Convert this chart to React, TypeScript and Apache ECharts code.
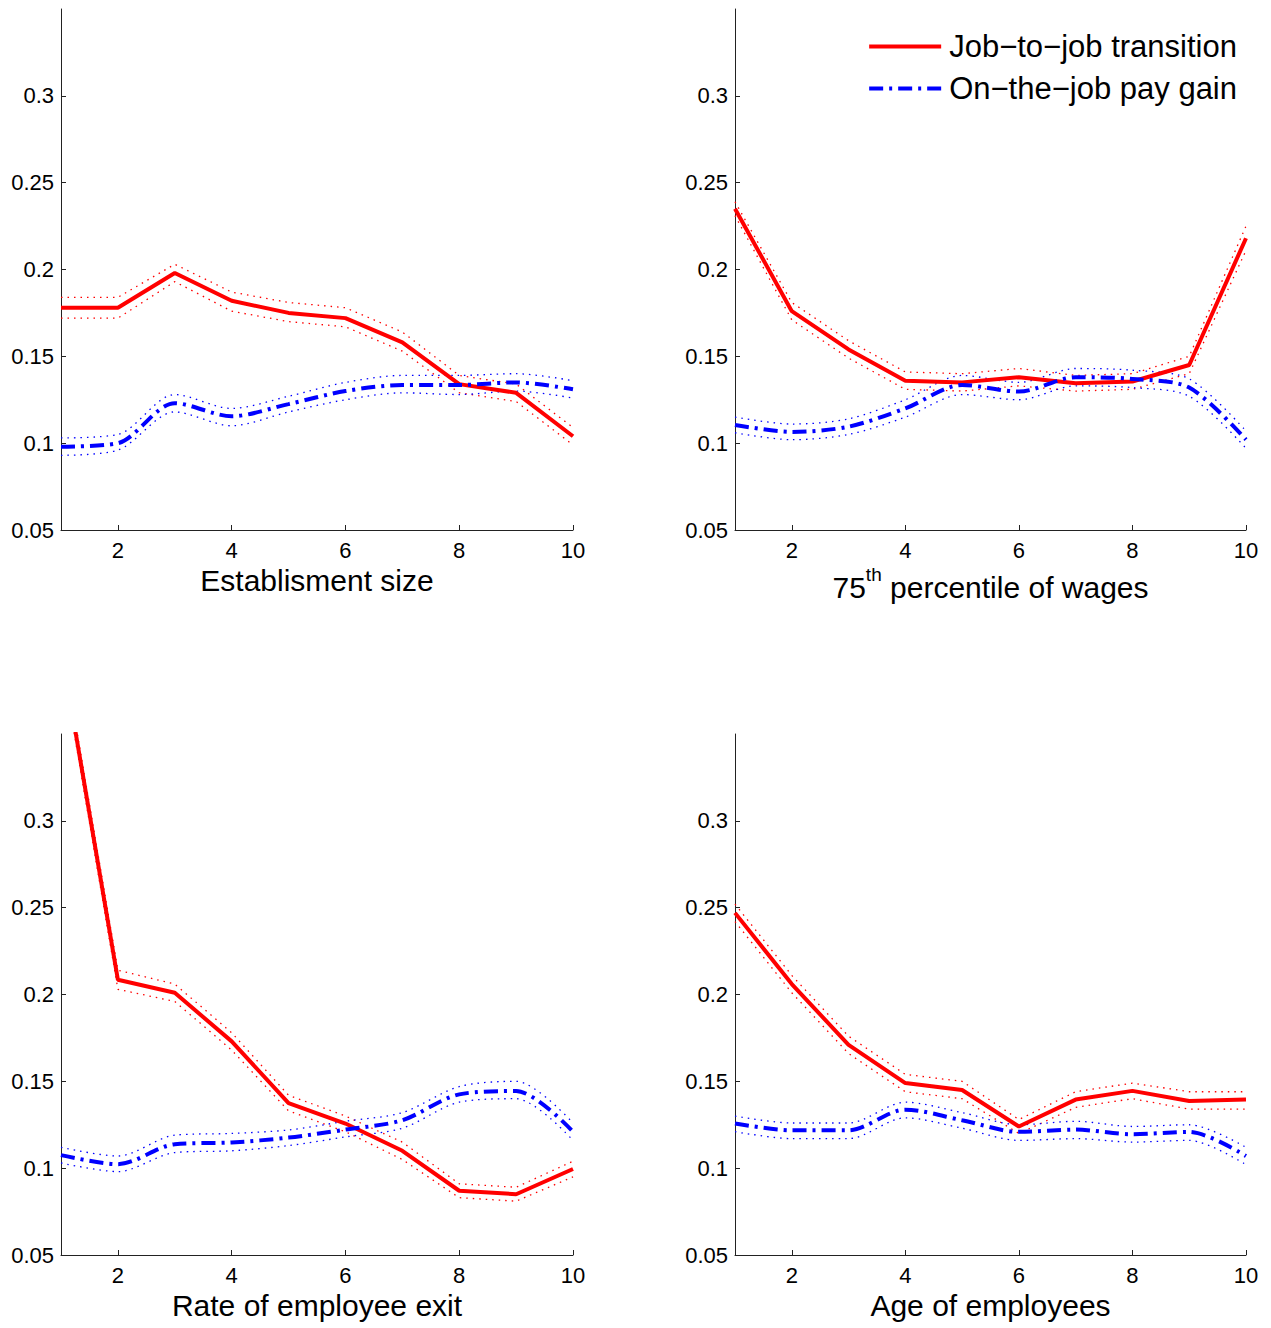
import React, { useEffect, useRef } from "react";
import * as echarts from "echarts";

const FONT = '"Liberation Sans", Arial, Helvetica, sans-serif';

const X = [1, 2, 3, 4, 5, 6, 7, 8, 9, 10];
const xTicks = [2, 4, 6, 8, 10];
const yTicks = [0.05, 0.1, 0.15, 0.2, 0.25, 0.3];

const JTJ_NAME = "Job\u2212to\u2212job transition";
const PAY_NAME = "On\u2212the\u2212job pay gain";

const xNames = [
  "Establisment size",
  "75{sup|th} percentile of wages",
  "Rate of employee exit",
  "Age of employees",
];

// Panel 1: Establishment size
const jtj1 = [0.178, 0.178, 0.198, 0.182, 0.175, 0.172, 0.158, 0.134, 0.129, 0.104];
const jtj1Hi = [0.184, 0.184, 0.203, 0.187, 0.181, 0.178, 0.164, 0.139, 0.134, 0.109];
const jtj1Lo = [0.172, 0.172, 0.193, 0.176, 0.17, 0.167, 0.153, 0.129, 0.124, 0.099];
const pay1 = [0.098, 0.1, 0.123, 0.1155, 0.1225, 0.13, 0.1335, 0.1335, 0.135, 0.131];
const pay1Hi = [0.103, 0.105, 0.128, 0.12, 0.127, 0.135, 0.139, 0.139, 0.14, 0.136];
const pay1Lo = [0.093, 0.096, 0.118, 0.11, 0.118, 0.125, 0.129, 0.128, 0.13, 0.126];

// Panel 2: 75th percentile of wages
const jtj2 = [0.235, 0.176, 0.154, 0.136, 0.135, 0.138, 0.1345, 0.1355, 0.145, 0.218];
const jtj2Hi = [0.239, 0.181, 0.159, 0.141, 0.14, 0.143, 0.139, 0.14, 0.15, 0.225];
const jtj2Lo = [0.231, 0.171, 0.149, 0.131, 0.13, 0.133, 0.13, 0.131, 0.14, 0.211];
const pay2 = [0.1105, 0.1065, 0.1095, 0.12, 0.1335, 0.1297, 0.138, 0.137, 0.132, 0.102];
const pay2Hi = [0.115, 0.111, 0.114, 0.125, 0.139, 0.135, 0.143, 0.142, 0.137, 0.107];
const pay2Lo = [0.106, 0.102, 0.105, 0.115, 0.128, 0.125, 0.133, 0.132, 0.127, 0.097];

// Panel 3: Rate of employee exit
const jtj3 = [0.4, 0.2085, 0.201, 0.173, 0.1375, 0.1257, 0.11, 0.087, 0.085, 0.0995];
const jtj3Hi = [0.405, 0.214, 0.206, 0.178, 0.142, 0.13, 0.115, 0.091, 0.089, 0.104];
const jtj3Lo = [0.395, 0.203, 0.196, 0.168, 0.133, 0.121, 0.105, 0.083, 0.081, 0.095];
const pay3 = [0.1075, 0.1023, 0.1138, 0.1148, 0.1176, 0.1222, 0.1276, 0.1425, 0.1444, 0.121];
const pay3Hi = [0.112, 0.107, 0.119, 0.12, 0.122, 0.127, 0.132, 0.147, 0.15, 0.126];
const pay3Lo = [0.103, 0.098, 0.109, 0.11, 0.113, 0.118, 0.123, 0.138, 0.14, 0.116];

// Panel 4: Age of employees
const jtj4 = [0.247, 0.206, 0.171, 0.149, 0.145, 0.124, 0.1395, 0.1445, 0.1387, 0.1395];
const jtj4Hi = [0.252, 0.211, 0.176, 0.154, 0.15, 0.128, 0.144, 0.149, 0.144, 0.144];
const jtj4Lo = [0.242, 0.201, 0.166, 0.144, 0.14, 0.12, 0.135, 0.14, 0.134, 0.134];
const pay4 = [0.1257, 0.1218, 0.1218, 0.1337, 0.1276, 0.1209, 0.1222, 0.1195, 0.1209, 0.107];
const pay4Hi = [0.13, 0.126, 0.126, 0.138, 0.132, 0.125, 0.127, 0.124, 0.125, 0.112];
const pay4Lo = [0.121, 0.117, 0.117, 0.129, 0.123, 0.116, 0.117, 0.115, 0.116, 0.102];

const panels = [
  { jtj: jtj1, jtjHi: jtj1Hi, jtjLo: jtj1Lo, pay: pay1, payHi: pay1Hi, payLo: pay1Lo },
  { jtj: jtj2, jtjHi: jtj2Hi, jtjLo: jtj2Lo, pay: pay2, payHi: pay2Hi, payLo: pay2Lo },
  { jtj: jtj3, jtjHi: jtj3Hi, jtjLo: jtj3Lo, pay: pay3, payHi: pay3Hi, payLo: pay3Lo },
  { jtj: jtj4, jtjHi: jtj4Hi, jtjLo: jtj4Lo, pay: pay4, payHi: pay4Hi, payLo: pay4Lo },
];

const grids = [
  { left: 61, top: 9, width: 512, height: 521 },
  { left: 735, top: 9, width: 511, height: 521 },
  { left: 61, top: 734, width: 512, height: 521 },
  { left: 735, top: 734, width: 511, height: 521 },
];

const RED = "#ff0000";
const BLUE = "#0000ff";
const DOT = [1.5, 5];
const DASHDOT = [14, 6, 3, 6];

const zip = (ys: number[]) => X.map((x, i) => [x, ys[i]]);

export default function App() {
  const ref = useRef<HTMLDivElement>(null);

  useEffect(() => {
    if (!ref.current) return;
    const chart = echarts.init(ref.current, undefined, { renderer: "svg" });

    const xAxis = grids.map((_, i) => ({
      type: "value",
      gridIndex: i,
      min: 1,
      max: 10,
      splitLine: { show: false },
      axisLine: { show: true, lineStyle: { color: "#222", width: 1 } },
      axisTick: {
        show: true,
        inside: true,
        length: 5,
        customValues: xTicks,
        lineStyle: { color: "#222" },
      },
      axisLabel: {
        customValues: xTicks,
        fontSize: 22,
        color: "#000",
        margin: 9,
        fontFamily: FONT,
      },
      name: xNames[i],
      nameLocation: "middle",
      nameGap: 35,
      nameTextStyle: {
        fontSize: 30,
        color: "#000",
        fontFamily: FONT,
        verticalAlign: "top",
        rich: {
          sup: {
            fontSize: 19,
            color: "#000",
            fontFamily: FONT,
            verticalAlign: "bottom",
            padding: [0, 0, 26, 0],
          },
        },
      },
    }));

    const yAxis = grids.map((_, i) => ({
      type: "value",
      gridIndex: i,
      min: 0.05,
      max: 0.35,
      interval: 0.05,
      splitLine: { show: false },
      axisLine: { show: true, lineStyle: { color: "#222", width: 1 } },
      axisTick: {
        show: true,
        inside: true,
        length: 5,
        customValues: yTicks,
        lineStyle: { color: "#222" },
      },
      axisLabel: {
        customValues: yTicks,
        fontSize: 22,
        color: "#000",
        margin: 7,
        fontFamily: FONT,
      },
    }));

    const series: any[] = [];
    panels.forEach((p, i) => {
      const base = {
        type: "line",
        xAxisIndex: i,
        yAxisIndex: i,
        showSymbol: false,
        symbol: "none",
        clip: true,
        silent: true,
      };
      series.push({ ...base, name: "jtjHi" + i, data: zip(p.jtjHi), z: 2, lineStyle: { color: RED, width: 1.3, type: DOT } });
      series.push({ ...base, name: "jtjLo" + i, data: zip(p.jtjLo), z: 2, lineStyle: { color: RED, width: 1.3, type: DOT } });
      series.push({ ...base, name: "payHi" + i, data: zip(p.payHi), z: 2, smooth: 0.3, lineStyle: { color: BLUE, width: 1.3, type: DOT } });
      series.push({ ...base, name: "payLo" + i, data: zip(p.payLo), z: 2, smooth: 0.3, lineStyle: { color: BLUE, width: 1.3, type: DOT } });
      series.push({ ...base, name: JTJ_NAME, data: zip(p.jtj), z: 3, itemStyle: { color: RED }, lineStyle: { color: RED, width: 4, type: "solid" } });
      series.push({ ...base, name: PAY_NAME, data: zip(p.pay), z: 4, smooth: 0.3, itemStyle: { color: BLUE }, lineStyle: { color: BLUE, width: 4, type: DASHDOT } });
    });

    chart.setOption({
      animation: false,
      backgroundColor: "#ffffff",
      textStyle: { fontFamily: FONT },
      grid: grids,
      xAxis,
      yAxis,
      legend: {
        data: [JTJ_NAME, PAY_NAME],
        orient: "vertical",
        right: 29,
        top: 26,
        itemWidth: 72,
        itemHeight: 14,
        itemGap: 11,
        selectedMode: false,
        itemStyle: { opacity: 0 },
        lineStyle: { width: 4 },
        textStyle: { fontSize: 31, color: "#000", fontFamily: FONT, padding: [0, 0, 0, 3] },
      },
      series,
    });

    return () => chart.dispose();
  }, []);

  return (
    <div
      ref={ref}
      style={{ position: "absolute", left: 0, top: 0, width: 1271, height: 1328, background: "#fff" }}
    />
  );
}
